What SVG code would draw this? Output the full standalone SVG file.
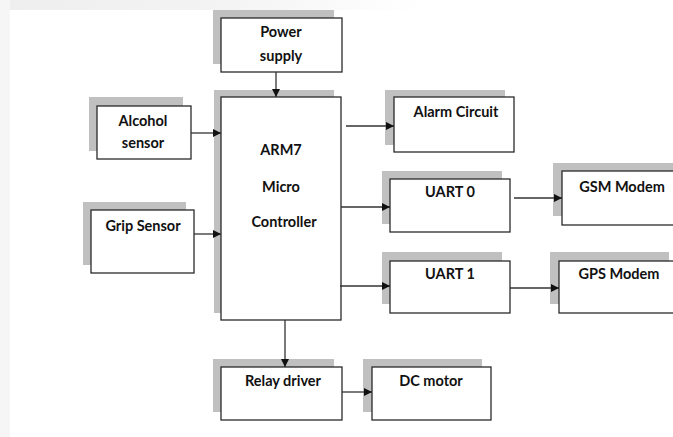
<svg xmlns="http://www.w3.org/2000/svg" width="673" height="437" viewBox="0 0 673 437">
<style>
.sh{fill:#c0c0c0}
.bx{fill:#fff;stroke:#2a2a2a;stroke-width:1.3}
.t{font-family:Lato,"Open Sans","Liberation Sans",sans-serif;font-weight:bold;font-size:14.5px;fill:#111;text-anchor:middle}
.c{stroke:#333;stroke-width:1.3;fill:none;marker-end:url(#ah)}
</style>
<defs>
<marker id="ah" viewBox="0 0 8 8" refX="8" refY="4" markerWidth="8" markerHeight="8" markerUnits="userSpaceOnUse" orient="auto">
<path d="M0,0 L8,4 L0,8 Z" fill="#111"/>
</marker>
<linearGradient id="tg" x1="0" x2="1" y1="0" y2="0">
<stop offset="0" stop-color="#eeeeee"/>
<stop offset="0.5" stop-color="#f3f3f3"/>
<stop offset="1" stop-color="#ffffff"/>
</linearGradient>
</defs>
<rect width="673" height="437" fill="#fff"/>
<rect x="0" y="0" width="420" height="10" fill="url(#tg)"/>
<rect x="0" y="0" width="10" height="437" fill="#f6f6f6"/>

<g id="power"><rect class="sh" x="213" y="10" width="121" height="54"/><rect class="bx" x="221" y="18" width="121" height="54"/><text class="t" x="281" y="37">Power</text><text class="t" x="281" y="61">supply</text></g>
<g id="arm"><rect class="sh" x="214" y="90" width="120" height="223"/><rect class="bx" x="221" y="97" width="120" height="223"/><text class="t" x="281" y="155">ARM7</text><text class="t" x="281" y="192">Micro</text><text class="t" x="284" y="227">Controller</text></g>
<g id="alcohol"><rect class="sh" x="89" y="97" width="94" height="54"/><rect class="bx" x="97" y="106" width="94" height="53"/><text class="t" x="143" y="126">Alcohol</text><text class="t" x="143" y="148">sensor</text></g>
<g id="grip"><rect class="sh" x="83" y="202" width="103" height="63"/><rect class="bx" x="91" y="210" width="103" height="63"/><text class="t" x="143" y="231">Grip Sensor</text></g>
<g id="alarm"><rect class="sh" x="385" y="90" width="120" height="55"/><rect class="bx" x="394" y="97" width="120" height="55"/><text class="t" x="456" y="117">Alarm Circuit</text></g>
<g id="uart0"><rect class="sh" x="382" y="171" width="120" height="53"/><rect class="bx" x="390" y="179" width="120" height="53"/><text class="t" x="450" y="197">UART 0</text></g>
<g id="gsm"><rect class="sh" x="553" y="163" width="130" height="53"/><rect class="bx" x="562" y="171" width="130" height="54"/><text class="t" x="622" y="192">GSM Modem</text></g>
<g id="uart1"><rect class="sh" x="382" y="252" width="120" height="52"/><rect class="bx" x="390" y="261" width="120" height="52"/><text class="t" x="450" y="279">UART 1</text></g>
<g id="gps"><rect class="sh" x="550" y="252" width="119" height="52"/><rect class="bx" x="559" y="261" width="130" height="52"/><text class="t" x="619" y="279">GPS Modem</text></g>
<g id="relay"><rect class="sh" x="213" y="359" width="121" height="53"/><rect class="bx" x="221" y="367" width="121" height="53"/><text class="t" x="283" y="386">Relay driver</text></g>
<g id="dc"><rect class="sh" x="363" y="359" width="119" height="53"/><rect class="bx" x="372" y="367" width="119" height="53"/><text class="t" x="431" y="386">DC motor</text></g>

<g id="connectors">
<line class="c" x1="276" y1="72" x2="276" y2="97"/>
<line class="c" x1="191" y1="133" x2="221" y2="133"/>
<line class="c" x1="194" y1="234" x2="221" y2="234"/>
<line class="c" x1="346" y1="126" x2="394" y2="126"/>
<line class="c" x1="341" y1="207" x2="390" y2="207"/>
<line class="c" x1="514" y1="198" x2="562" y2="198"/>
<line class="c" x1="340" y1="286" x2="390" y2="286"/>
<line class="c" x1="510" y1="288" x2="559" y2="288"/>
<line class="c" x1="285" y1="320" x2="285" y2="367"/>
<line class="c" x1="342" y1="392" x2="372" y2="392"/>
</g>
</svg>
